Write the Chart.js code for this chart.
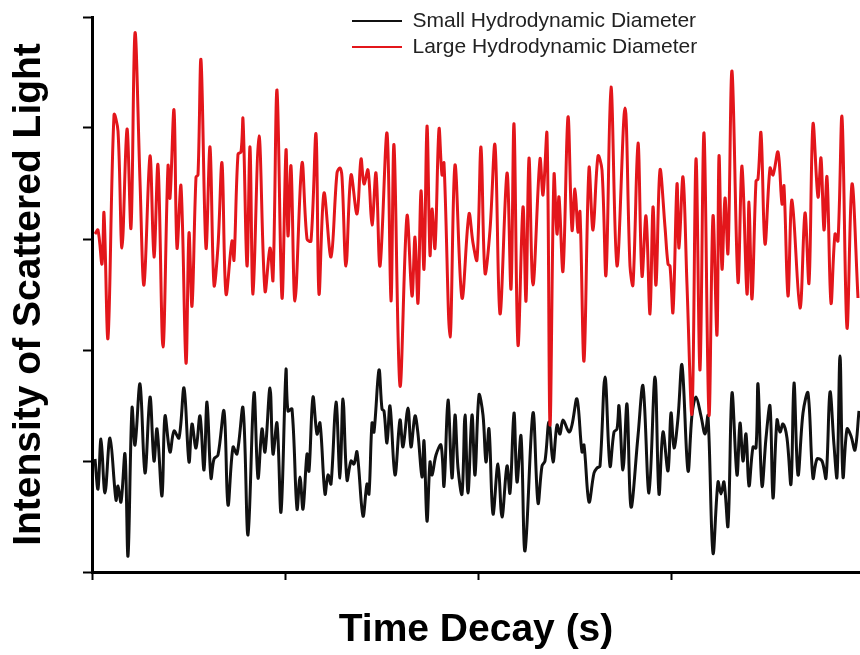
<!DOCTYPE html>
<html>
<head>
<meta charset="utf-8">
<script src="https://cdn.jsdelivr.net/npm/chart.js@4"></script>
<style>
  html, body { margin: 0; padding: 0; background: #fff; }
  #wrap { width: 860px; height: 655px; position: relative; }
</style>
</head>
<body>
<div id="wrap"><canvas id="c"></canvas></div>
<script>
// Time axis (arbitrary sample units) and tick positions
const timeTickValues = [0, 193, 386, 579];
const timeMax = 768;
const intensityTickValues = [0, 111, 222, 333, 444, 555];
const intensityMax = 555;

const seriesLabels = ["Small Hydrodynamic Diameter", "Large Hydrodynamic Diameter"];

// Small hydrodynamic diameter (black)
const timeSmall = [3,6,9,13,18,24,26,29,33,36,40,43,48,53,58,62,65,70,73,78,82,87,92,97,100,104,108,112,115,119,122,126,132,136,141,145,151,156,162,166,170,173,178,181,185,189,194,196,200,205,208,211,215,217,221,225,228,233,236,239,244,248,251,255,259,262,265,271,275,277,280,282,287,290,292,295,298,303,308,311,316,319,323,326,330,332,335,338,340,344,349,352,356,360,363,366,370,373,376,380,383,387,391,394,397,401,406,410,415,418,422,425,429,433,441,446,450,453,457,461,465,468,471,477,480,485,490,492,497,502,505,508,513,518,522,525,527,531,535,539,546,551,557,563,567,571,576,579,582,586,590,596,600,604,609,613,616,621,626,629,632,636,640,645,648,651,654,657,661,664,666,670,674,678,681,685,688,691,695,699,702,706,711,716,721,725,730,734,738,742,745,748,751,755,759,763,767];
const intensitySmall = [113,83,133,79,134,72,86,70,118,16,164,127,188,99,175,111,143,76,156,120,141,134,184,110,148,124,156,102,170,94,113,117,161,67,125,118,164,37,179,94,143,120,184,118,149,60,202,161,163,63,95,63,118,101,175,138,149,78,97,88,170,94,173,92,111,108,120,56,88,78,149,140,202,163,161,129,166,97,152,125,164,125,156,138,95,131,51,110,97,117,127,86,172,94,157,104,78,157,79,157,97,177,157,110,143,58,108,55,106,79,159,90,136,21,159,69,106,111,150,110,147,138,152,140,147,173,120,127,70,99,104,106,195,106,140,143,166,102,168,65,136,186,79,195,78,140,101,159,124,154,207,101,157,175,156,138,156,19,90,78,90,46,179,97,149,111,138,86,125,124,188,86,134,166,74,152,140,148,134,88,189,97,159,179,94,113,111,94,180,127,95,216,95,143,136,122,161];

// Large hydrodynamic diameter (red)
const timeLarge = [3,6,10,12,16,22,26,30,35,39,43,48,52,58,62,66,71,76,78,82,85,89,94,97,100,104,106,109,114,118,122,126,130,134,140,142,146,149,151,155,158,161,167,173,178,181,185,190,194,196,199,203,210,215,219,224,227,232,239,245,248,250,254,259,265,269,272,276,280,284,288,295,299,302,308,315,320,323,326,329,332,335,338,340,343,347,350,352,358,363,370,377,381,385,389,393,398,403,408,415,419,422,426,431,434,437,441,448,451,455,458,462,465,467,471,476,480,483,486,488,492,497,501,506,510,514,519,525,533,538,541,546,550,554,558,561,564,568,573,576,578,581,585,587,591,595,600,604,608,612,617,621,625,627,630,633,636,640,646,650,655,657,660,664,666,669,673,678,681,686,690,692,696,700,708,713,717,721,726,729,732,735,739,743,746,750,755,760,766];
const intensityLarge = [338,342,308,359,234,457,441,324,443,344,539,391,287,416,315,407,225,406,374,462,324,386,209,339,266,395,397,512,324,425,287,326,409,278,331,312,418,420,453,306,425,278,436,281,324,292,482,274,422,336,406,271,409,333,331,438,278,379,315,399,404,395,306,397,358,413,388,402,347,399,306,439,271,427,186,356,276,335,269,381,303,446,317,363,324,443,397,409,235,407,274,358,329,312,425,299,342,427,258,399,283,448,227,365,271,414,287,413,377,438,147,397,338,375,301,455,342,383,340,360,211,404,342,416,402,297,485,306,464,306,287,429,296,356,258,365,287,402,345,308,306,260,388,324,395,287,159,413,202,439,157,356,237,416,303,374,319,501,290,406,278,370,273,391,393,439,328,404,397,420,368,386,276,372,264,359,289,448,375,414,342,395,269,338,331,455,244,388,274];

const toPoints = (xs, ys) => xs.map((x, i) => ({ x: x, y: ys[i] }));

const legendPlacer = {
  id: 'legendPlacer',
  afterLayout(chart) {
    const lg = chart.legend;
    if (!lg) return;
    lg.left = 347;
    lg.top = 5.5;
    lg.right = 860;
    lg.bottom = 110;
  }
};

const FONT = "'Liberation Sans', Arial, Helvetica, sans-serif";

new Chart(document.getElementById('c'), {
  type: 'line',
  data: {
    datasets: [
      {
        label: seriesLabels[0],
        data: toPoints(timeSmall, intensitySmall),
        borderColor: '#111111',
        backgroundColor: '#111111',
        borderWidth: 3,
        pointRadius: 0,
        tension: 0.35,
        fill: false,
        order: 1
      },
      {
        label: seriesLabels[1],
        data: toPoints(timeLarge, intensityLarge),
        borderColor: '#e3161b',
        backgroundColor: '#e3161b',
        borderWidth: 3,
        pointRadius: 0,
        tension: 0.35,
        fill: false,
        order: 0
      }
    ]
  },
  options: {
    responsive: true,
    maintainAspectRatio: false,
    animation: false,
    layout: { padding: { top: 17, right: 0, bottom: 0, left: 0 } },
    plugins: {
      tooltip: { enabled: false },
      legend: {
        position: 'chartArea',
        align: 'start',
        labels: {
          usePointStyle: true,
          pointStyle: 'line',
          pointStyleWidth: 50,
          padding: 5,
          color: '#222',
          font: { family: FONT, size: 21 },
          sort: (a, b) => a.datasetIndex - b.datasetIndex,
          generateLabels: (chart) => {
            const items = Chart.defaults.plugins.legend.labels.generateLabels(chart);
            items.forEach(it => { it.lineWidth = 2; });
            return items;
          }
        }
      }
    },
    scales: {
      x: {
        type: 'linear',
        min: 0,
        max: timeMax,
        afterFit: (s) => { s.height = 83; },
        afterBuildTicks: (s) => { s.ticks = timeTickValues.map(v => ({ value: v })); },
        ticks: { display: false },
        grid: { drawOnChartArea: false, drawTicks: true, tickLength: 8, tickWidth: 2, tickColor: '#000', color: '#000' },
        border: { display: true, color: '#000', width: 3 },
        title: {
          display: true,
          text: 'Time Decay (s)',
          color: '#000',
          font: { family: FONT, size: 39, weight: 'bold' },
          padding: { top: 0, bottom: 1 }
        }
      },
      y: {
        type: 'linear',
        min: 0,
        max: intensityMax,
        afterFit: (s) => { s.width = 92; },
        afterBuildTicks: (s) => { s.ticks = intensityTickValues.map(v => ({ value: v })); },
        ticks: { display: false },
        grid: { drawOnChartArea: false, drawTicks: true, tickLength: 9, tickWidth: 2, tickColor: '#000', color: '#000' },
        border: { display: true, color: '#000', width: 3 },
        title: {
          display: true,
          text: 'Intensity of Scattered Light',
          color: '#000',
          font: { family: FONT, size: 39, weight: 'bold' },
          padding: { top: 6, bottom: 0 }
        }
      }
    }
  },
  plugins: [legendPlacer]
});
</script>
</body>
</html>
